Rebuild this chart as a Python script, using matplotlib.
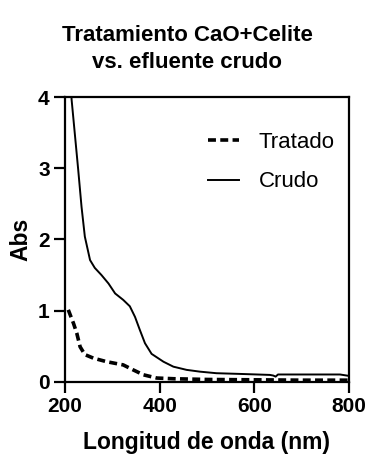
import numpy as np
import matplotlib
matplotlib.use("Agg")
import matplotlib.pyplot as plt

plt.rcParams['font.family'] = ['Liberation Sans', 'DejaVu Sans']

# espectros (nm, Abs)
crudo_nm = [212, 214, 228, 235, 242, 253, 263, 277, 292, 306, 323, 337, 348, 358,
            369, 383, 408, 429, 457, 485, 520, 570, 633, 640, 645, 650, 700, 781, 800]
crudo_abs = [4.3, 3.97, 2.98, 2.46, 2.04, 1.71, 1.60, 1.50, 1.38, 1.24, 1.15, 1.06, 0.91, 0.73,
             0.54, 0.39, 0.28, 0.21, 0.165, 0.14, 0.118, 0.108, 0.094, 0.085, 0.07, 0.1, 0.1, 0.1, 0.08]

tratado_nm = [207, 218, 225, 232, 242, 260, 288, 323, 344, 366, 394, 430, 500, 600, 700, 800]
tratado_abs = [1.01, 0.82, 0.68, 0.49, 0.38, 0.33, 0.28, 0.235, 0.165, 0.095, 0.05, 0.04,
               0.03, 0.025, 0.02, 0.02]

fig = plt.figure(figsize=(3.67, 4.57), dpi=100)
ax = fig.add_axes([0.177, 0.165, 0.774, 0.622])

ax.plot(tratado_nm, tratado_abs, color='black', lw=2.6, ls=(0, (2.2, 1.2)), label='Tratado')
ax.plot(crudo_nm, crudo_abs, color='black', lw=1.4, label='Crudo')

ax.set_xlim(200, 800)
ax.set_ylim(0, 4)
ax.set_xticks([200, 400, 600, 800])
ax.set_yticks([0, 1, 2, 3, 4])

for s in ax.spines.values():
    s.set_linewidth(1.6)
ax.tick_params(width=1.6, length=8, labelsize=15, direction='out', pad=3)
for lab in ax.get_xticklabels() + ax.get_yticklabels():
    lab.set_fontweight('bold')

ax.set_xlabel('Longitud de onda (nm)', fontsize=16.5, fontweight='bold', labelpad=11)
ax.set_ylabel('Abs', fontsize=16.5, fontweight='bold', labelpad=4)
fig.text(0.51, 0.893, 'Tratamiento CaO+Celite\nvs. efluente crudo', fontsize=16,
         fontweight='bold', ha='center', va='center', linespacing=1.35)

ax.legend(loc='upper right', frameon=False, fontsize=16, handlelength=1.4,
          handletextpad=0.9, bbox_to_anchor=(1.02, 0.95), labelspacing=0.85)

fig.savefig('out.png', dpi=100)
